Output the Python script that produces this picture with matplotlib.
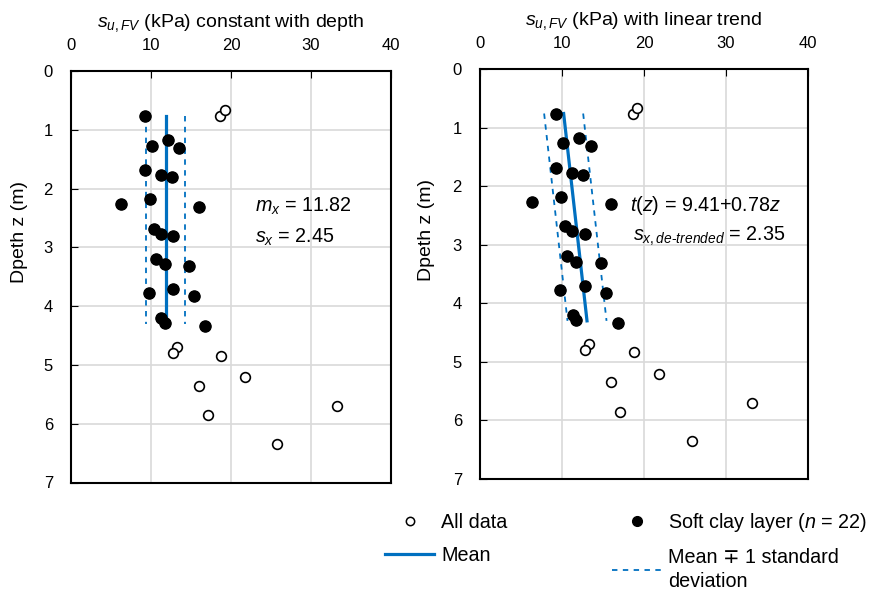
import matplotlib
matplotlib.use("Agg")
import numpy as np
import matplotlib.pyplot as plt
from matplotlib.lines import Line2D

plt.rcParams['font.family'] = ['Liberation Sans', 'DejaVu Sans']
plt.rcParams['mathtext.fontset'] = 'custom'
plt.rcParams['mathtext.rm'] = 'Liberation Sans'
plt.rcParams['mathtext.it'] = 'Liberation Sans:italic'
plt.rcParams['font.size'] = 12

# soft clay layer (filled)
clay_su = [9.25, 10.1, 12.1, 13.5, 9.25, 11.2, 12.6, 6.3, 9.9, 16.0, 10.4, 11.25, 12.8,
           10.6, 11.7, 14.8, 9.8, 12.8, 15.4, 11.3, 11.7, 16.8]
clay_z = [0.77, 1.27, 1.18, 1.31, 1.69, 1.77, 1.81, 2.27, 2.18, 2.31, 2.68, 2.77, 2.81,
          3.19, 3.29, 3.32, 3.78, 3.70, 3.82, 4.20, 4.28, 4.34]
# other points (open only)
other_su = [18.6, 19.2, 13.25, 12.8, 18.8, 21.8, 16.0, 33.2, 17.1, 25.8]
other_z = [0.77, 0.67, 4.70, 4.79, 4.84, 5.20, 5.35, 5.70, 5.85, 6.35]

all_su = clay_su + other_su
all_z = clay_z + other_z

# mean +- sd lines, as drawn
line_z = [0.76, 4.3]
const_mean = [11.82, 11.82]
const_sd = 2.45
trend_mean = [10.2, 13.05]
trend_sd = 2.38

blue = '#0070C0'

fig = plt.figure(figsize=(8.74, 5.94), dpi=100)
ax1 = fig.add_axes([71 / 874, 1 - 482.5 / 594, 320 / 874, 411.5 / 594])
ax2 = fig.add_axes([480 / 874, 1 - 479 / 594, 328 / 874, 410 / 594])

for ax, mean, sd in [(ax1, const_mean, const_sd), (ax2, trend_mean, trend_sd)]:
    m = np.array(mean)
    ax.plot(m, line_z, color=blue, lw=2.3, zorder=3)
    ax.plot(m - sd, line_z, color=blue, lw=1.3, ls=(0, (3, 3)), zorder=3)
    ax.plot(m + sd, line_z, color=blue, lw=1.3, ls=(0, (3, 3)), zorder=3)
    ax.plot(all_su, all_z, 'o', ms=7, mfc='white', mec='black', mew=1.2, zorder=4)
    ax.plot(clay_su, clay_z, 'o', ms=8, mfc='black', mec='black', zorder=5)

    ax.set_xlim(0, 40)
    ax.set_ylim(7, 0)
    ax.set_xticks([0, 10, 20, 30, 40])
    ax.set_yticks(range(8))
    ax.xaxis.tick_top()
    ax.tick_params(direction='in', length=5, labelsize=12)
    ax.tick_params(axis='x', pad=13)
    ax.tick_params(axis='y', pad=13)
    ax.grid(True, color='#d9d9d9', lw=1.2)
    ax.set_axisbelow(True)
    for sp in ax.spines.values():
        sp.set_linewidth(1.5)
    ax.set_ylabel('Dpeth z (m)', fontsize=14)

ax1.yaxis.set_label_coords(-0.134, 0.608)
ax2.yaxis.set_label_coords(-0.137, 0.607)

ax1.set_title('$s_{u,FV}$ (kPa) constant with depth', fontsize=14, pad=32)
ax2.set_title('$s_{u,FV}$ (kPa) with linear trend', fontsize=14, pad=32)

ax1.text(23.0, 2.3, '$m_x$ = 11.82', fontsize=14.2, va='center')
ax1.text(23.0, 2.83, '$s_x$ = 2.45', fontsize=14.2, va='center')
ax2.text(18.3, 2.33, '$t(z)$ = 9.41+0.78$z$', fontsize=14.2, va='center')
ax2.text(18.6, 2.86, '$s_{x,de\u2010trended}$ = 2.35', fontsize=14.2, va='center')

handles = [
    Line2D([], [], ls='none', marker='o', ms=6, mfc='white', mec='black', mew=1.1),
    Line2D([], [], color=blue, lw=2.3),
    Line2D([], [], ls='none', marker='o', ms=7, mfc='black', mec='black'),
    Line2D([], [], color=blue, lw=1.3, ls=(0, (3, 3))),
]
labels = ['All data', 'Mean', 'Soft clay layer ($n$ = 22)', 'Mean \u2213 1 standard\ndeviation']
leg = fig.legend(handles, labels, loc='upper left', bbox_to_anchor=(385 / 874, 1 - 511 / 594),
                 ncol=2, frameon=False, fontsize=14.2, handlelength=2.5, columnspacing=5.3,
                 handletextpad=0.35, labelspacing=0.7, borderaxespad=0, borderpad=0)
leg.get_texts()[3].set_linespacing(1.35)

fig.savefig('out.png', dpi=100)
